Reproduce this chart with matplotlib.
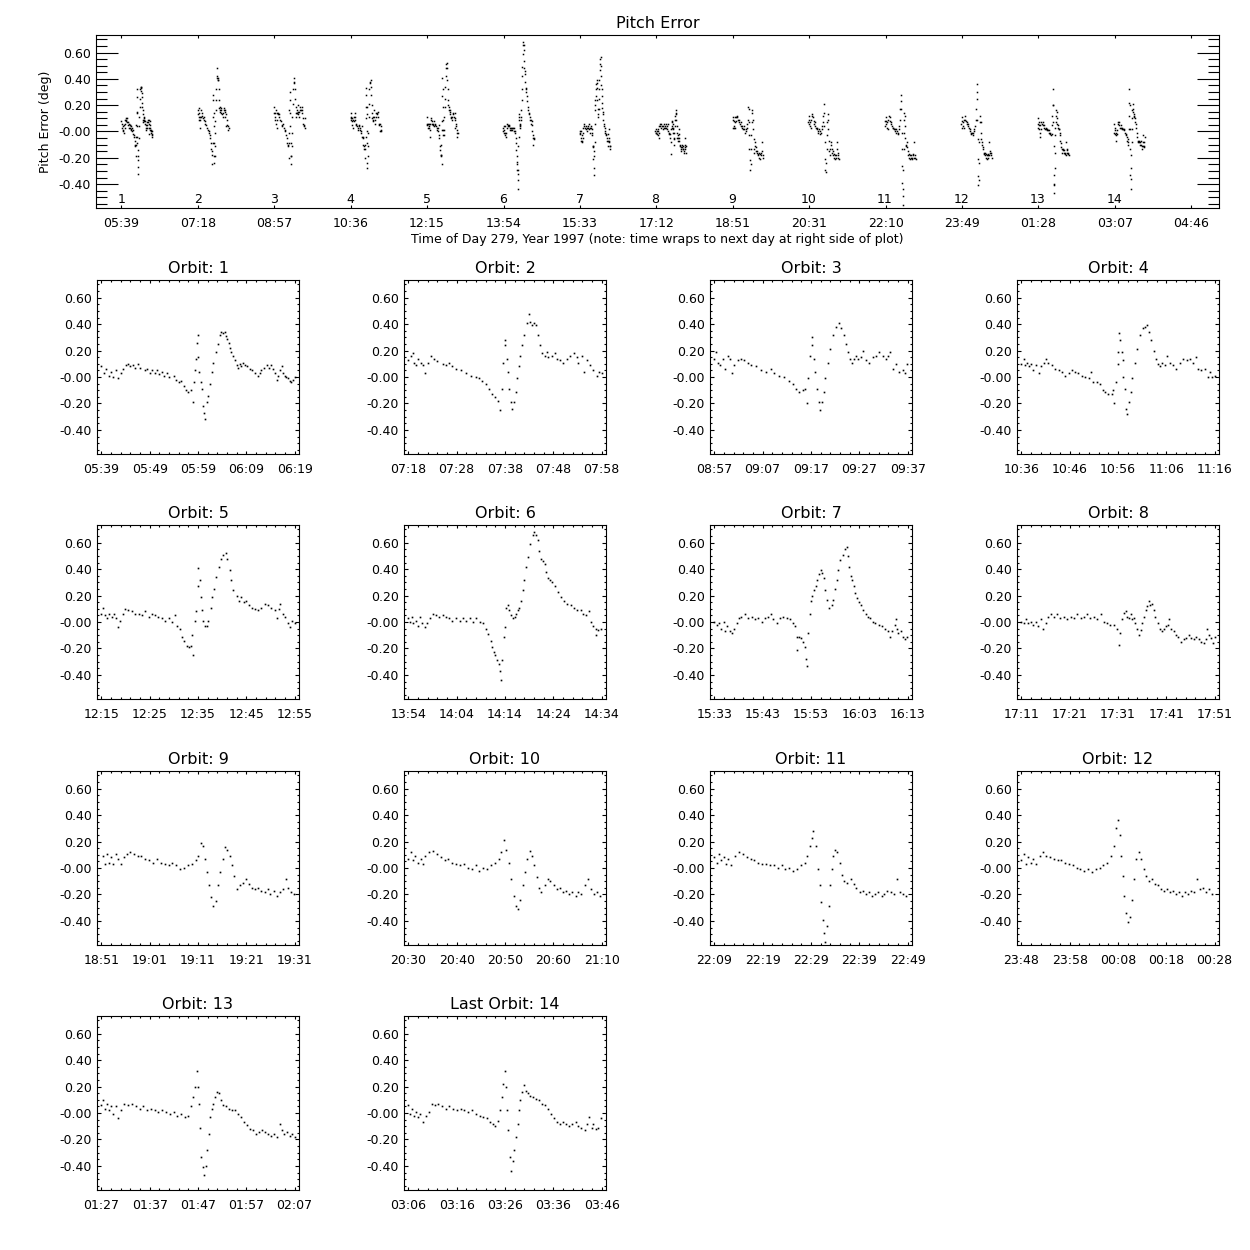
import matplotlib
matplotlib.use('Agg')
import matplotlib.pyplot as plt
from matplotlib.ticker import AutoMinorLocator

plt.rcParams['font.family'] = 'DejaVu Sans'

########################## DATA ###################################################

# orbit start, minutes after 00:00 of day 279 (values past 1440 are next day)
orbit_start = [339.0, 438.0, 537.0, 636.0, 735.0, 834.0, 933.0, 1031.0,
               1131.0, 1229.6, 1329.0, 1428.0, 1527.0, 1626.0]

# (minutes into orbit, pitch error in deg)
orbit1 = [(0, 0.08), (0.5, 0.03), (1, 0.06), (1.5, 0.01), (2, 0.04), (2.5, 0.00), (3, 0.05), (3.5, -0.01),
          (4, 0.03), (4.5, 0.06), (5, 0.09), (5.5, 0.10), (6, 0.08), (6.5, 0.09), (7, 0.07), (7.5, 0.10),
          (8, 0.07), (9, 0.05), (9.5, 0.06), (10, 0.03), (10.5, 0.05), (11, 0.03), (11.5, 0.05), (12, 0.02),
          (12.5, 0.04), (13, 0.01), (13.5, 0.03), (14, 0.00), (15, 0.01), (15.5, -0.02), (16, -0.04),
          (16.5, -0.03), (17, -0.07), (17.5, -0.10), (18, -0.11), (18.5, -0.10), (19.0, -0.19), (19.2, -0.04),
          (19.4, 0.05), (19.6, 0.14), (19.8, 0.26), (19.9, 0.32), (20.1, 0.15), (20.3, 0.04), (20.6, -0.04),
          (20.8, -0.09), (21.0, -0.22), (21.2, -0.27), (21.5, -0.32), (21.8, -0.19), (22.1, -0.14),
          (22.5, -0.05), (22.8, 0.04), (23.2, 0.11), (23.7, 0.19), (24.1, 0.25), (24.5, 0.32), (24.8, 0.34),
          (25.2, 0.33), (25.5, 0.34), (25.8, 0.31), (26.1, 0.29), (26.4, 0.26), (26.7, 0.22), (26.9, 0.19),
          (27.3, 0.16), (27.6, 0.13), (28.0, 0.09), (28.3, 0.07), (28.7, 0.10), (29.0, 0.08), (29.4, 0.11),
          (29.7, 0.09), (30.2, 0.08), (30.7, 0.06), (31.2, 0.05), (31.8, 0.03), (32.4, 0.01), (32.8, 0.03),
          (33.1, 0.05), (33.6, 0.07), (34.2, 0.09), (34.7, 0.07), (35.2, 0.09), (35.6, 0.06), (35.9, 0.03),
          (36.3, -0.02), (36.6, 0.01), (37.0, 0.05), (37.3, 0.08), (37.6, 0.03), (37.9, 0.01), (38.3, 0.00),
          (38.6, -0.01), (39.0, -0.03), (39.3, -0.04), (39.6, -0.02), (40.0, 0.00)]

orbit2 = [(0, 0.13), (0.5, 0.16), (0.9, 0.18), (1.2, 0.11), (1.6, 0.09), (2.1, 0.14), (2.6, 0.11), (3.1, 0.09),
          (3.4, 0.03), (4.0, 0.11), (4.7, 0.16), (5.4, 0.14), (6.0, 0.12), (7.1, 0.10), (7.8, 0.09), (8.4, 0.11),
          (9.1, 0.08), (9.8, 0.06), (10.8, 0.05), (11.9, 0.03), (12.9, 0.01), (13.9, 0.00), (14.6, -0.01),
          (15.3, -0.03), (16.0, -0.05), (16.7, -0.09), (17.4, -0.13), (18.0, -0.15), (18.6, -0.18),
          (18.9, -0.25), (19.3, -0.09), (19.6, 0.11), (19.9, 0.28), (20.1, 0.24), (20.4, 0.14), (20.6, 0.04),
          (20.9, -0.09), (21.3, -0.19), (21.5, -0.24), (21.8, -0.19), (22.2, -0.11), (22.5, -0.01),
          (22.8, 0.08), (23.2, 0.16), (23.5, 0.24), (24.0, 0.32), (24.6, 0.41), (24.9, 0.48), (25.1, 0.42),
          (25.6, 0.39), (26.1, 0.41), (26.5, 0.39), (26.9, 0.32), (27.3, 0.24), (27.6, 0.18), (28.2, 0.16),
          (28.7, 0.19), (29.0, 0.15), (29.7, 0.16), (30.4, 0.18), (30.7, 0.14), (31.4, 0.13), (32.1, 0.11),
          (32.8, 0.14), (33.5, 0.16), (34.2, 0.18), (34.9, 0.15), (35.2, 0.11), (35.9, 0.16), (36.4, 0.04),
          (36.9, 0.13), (37.6, 0.09), (38.3, 0.05), (39.0, 0.01), (39.5, 0.04), (40.0, 0.03)]

orbit3 = [(0, 0.14), (0.3, 0.19), (0.7, 0.11), (1.2, 0.09), (1.7, 0.14), (2.2, 0.06), (2.8, 0.16), (3.2, 0.14),
          (3.6, 0.03), (4.1, 0.09), (4.8, 0.13), (5.5, 0.14), (6.2, 0.13), (6.9, 0.11), (7.6, 0.09), (8.6, 0.08),
          (9.7, 0.05), (10.7, 0.04), (11.7, 0.06), (12.4, 0.03), (13.4, 0.01), (14.5, 0.00), (15.5, -0.03),
          (16.2, -0.05), (16.9, -0.09), (17.6, -0.11), (18.3, -0.10), (18.8, -0.09), (19.1, -0.20),
          (19.4, -0.01), (19.8, 0.16), (20.2, 0.30), (20.3, 0.24), (20.6, 0.14), (20.8, 0.04), (21.2, -0.09),
          (21.6, -0.19), (21.9, -0.25), (22.2, -0.19), (22.6, -0.11), (23.0, -0.01), (23.5, 0.11),
          (24.0, 0.21), (24.5, 0.32), (25.1, 0.38), (25.7, 0.41), (26.2, 0.37), (26.8, 0.32), (27.3, 0.25),
          (27.7, 0.19), (28.1, 0.14), (28.5, 0.11), (29.0, 0.14), (29.3, 0.16), (29.8, 0.14), (30.3, 0.15),
          (30.7, 0.20), (31.4, 0.13), (32.1, 0.11), (32.8, 0.15), (33.4, 0.16), (34.1, 0.19), (34.8, 0.16),
          (35.5, 0.14), (36.0, 0.16), (36.4, 0.19), (36.9, 0.06), (37.6, 0.10), (38.3, 0.04), (39.0, 0.05),
          (39.5, 0.03), (39.9, 0.10)]

orbit4 = [(0, 0.10), (0.5, 0.14), (0.8, 0.09), (1.2, 0.11), (1.6, 0.08), (2.1, 0.10), (2.5, 0.05), (3.1, 0.09),
          (3.6, 0.03), (4.1, 0.08), (4.6, 0.11), (5.2, 0.14), (5.6, 0.11), (6.3, 0.09), (7.0, 0.06), (7.7, 0.05),
          (8.4, 0.04), (9.1, 0.01), (9.8, 0.03), (10.4, 0.05), (11.1, 0.04), (11.8, 0.03), (12.5, 0.01),
          (13.2, 0.00), (13.9, -0.01), (14.4, 0.04), (14.9, -0.04), (15.6, -0.04), (16.3, -0.05),
          (16.8, -0.10), (17.3, -0.11), (18.0, -0.13), (18.7, -0.13), (19.0, -0.10), (19.2, -0.20),
          (19.6, -0.04), (19.9, 0.10), (20.1, 0.19), (20.3, 0.33), (20.5, 0.28), (20.8, 0.19), (21.0, 0.13),
          (21.1, 0.00), (21.4, -0.09), (21.6, -0.24), (21.9, -0.28), (22.3, -0.19), (22.6, -0.11),
          (23.0, -0.01), (23.5, 0.11), (24.0, 0.21), (24.5, 0.32), (25.1, 0.37), (25.6, 0.38), (26.0, 0.39),
          (26.5, 0.34), (26.9, 0.28), (27.4, 0.20), (27.8, 0.14), (28.3, 0.10), (28.7, 0.08), (29.1, 0.11),
          (29.7, 0.09), (30.2, 0.16), (30.7, 0.11), (31.4, 0.09), (32.1, 0.06), (32.8, 0.11), (33.5, 0.14),
          (34.2, 0.13), (34.8, 0.14), (35.5, 0.11), (36.1, 0.15), (36.6, 0.06), (37.2, 0.05), (37.9, 0.06),
          (38.6, 0.00), (39.1, 0.04), (39.5, 0.00), (40.0, 0.01)]

orbit5 = [(0, 0.06), (0.3, 0.11), (0.7, 0.05), (1.2, 0.03), (1.6, 0.06), (2.2, 0.04), (2.7, 0.06), (3.1, 0.03),
          (3.4, -0.04), (3.9, 0.01), (4.5, 0.06), (4.9, 0.10), (5.6, 0.09), (6.3, 0.08), (7.0, 0.06),
          (7.7, 0.06), (8.4, 0.05), (9.1, 0.08), (9.8, 0.04), (10.4, 0.06), (11.1, 0.05), (11.8, 0.04),
          (12.5, 0.03), (13.2, 0.01), (13.9, 0.03), (14.6, 0.00), (15.3, 0.05), (15.6, -0.03), (16.2, -0.05),
          (16.6, -0.11), (17.1, -0.14), (17.7, -0.18), (18.1, -0.19), (18.6, -0.18), (18.8, -0.10),
          (19.0, -0.25), (19.4, 0.01), (19.6, 0.08), (19.9, 0.27), (20.1, 0.41), (20.4, 0.32), (20.6, 0.19),
          (20.9, 0.09), (21.1, 0.01), (21.4, -0.03), (21.8, -0.03), (22.1, 0.01), (22.6, 0.11), (23.0, 0.19),
          (23.4, 0.25), (23.8, 0.34), (24.3, 0.42), (24.7, 0.48), (25.2, 0.51), (25.7, 0.52), (26.1, 0.48),
          (26.6, 0.39), (26.9, 0.32), (27.3, 0.24), (28.0, 0.20), (28.5, 0.16), (29.0, 0.19), (29.5, 0.15),
          (30.0, 0.16), (30.6, 0.13), (31.1, 0.11), (31.8, 0.10), (32.4, 0.09), (33.1, 0.11), (33.8, 0.14),
          (34.5, 0.13), (35.2, 0.11), (35.9, 0.09), (36.4, 0.03), (36.8, 0.10), (37.0, 0.14), (37.6, 0.06),
          (38.1, 0.04), (38.6, -0.01), (39.1, -0.04), (39.5, 0.01), (40.0, -0.01)]

orbit6 = [(0, 0.03), (0.3, 0.00), (0.7, 0.04), (1.0, -0.01), (1.5, 0.01), (1.9, -0.03), (2.4, 0.04),
          (2.9, -0.01), (3.4, -0.04), (3.9, -0.01), (4.5, 0.03), (5.0, 0.06), (5.7, 0.05), (6.4, 0.04),
          (7.1, 0.05), (7.8, 0.04), (8.4, 0.03), (9.1, 0.01), (9.9, 0.03), (10.6, 0.01), (11.3, 0.03),
          (12.0, 0.01), (12.7, 0.03), (13.4, 0.00), (14.1, 0.03), (14.8, 0.00), (15.4, -0.01), (16.0, -0.05),
          (16.5, -0.09), (17.0, -0.14), (17.4, -0.19), (17.7, -0.23), (18.0, -0.25), (18.4, -0.29),
          (18.7, -0.32), (19.0, -0.37), (19.1, -0.44), (19.3, -0.29), (19.7, -0.11), (20.0, -0.04),
          (20.2, 0.11), (20.6, 0.13), (20.9, 0.09), (21.3, 0.05), (21.6, 0.03), (22.0, 0.04), (22.3, 0.06),
          (22.6, 0.09), (23.0, 0.11), (23.3, 0.16), (23.7, 0.24), (24.0, 0.32), (24.4, 0.42), (24.8, 0.49),
          (25.2, 0.59), (25.7, 0.66), (26.1, 0.68), (26.4, 0.66), (26.8, 0.62), (27.1, 0.54), (27.4, 0.48),
          (27.8, 0.46), (28.2, 0.44), (28.5, 0.38), (29.0, 0.33), (29.4, 0.32), (29.8, 0.30), (30.3, 0.27),
          (30.9, 0.23), (31.6, 0.19), (32.2, 0.16), (32.9, 0.14), (33.6, 0.13), (34.3, 0.11), (35.0, 0.09),
          (35.7, 0.09), (36.2, 0.06), (36.7, 0.05), (37.3, 0.08), (37.7, 0.00), (38.2, -0.03), (38.8, -0.05),
          (38.9, -0.10), (39.3, -0.06), (39.8, -0.05)]

orbit7 = [(0, 0.00), (0.5, -0.02), (0.9, -0.01), (1.4, -0.05), (1.9, 0.00), (2.3, -0.07), (2.7, -0.03),
          (3.2, -0.07), (3.6, -0.08), (4.1, -0.05), (4.6, -0.01), (5.0, 0.03), (5.6, 0.04), (6.3, 0.06),
          (7.0, 0.03), (7.7, 0.04), (8.4, 0.02), (9.1, 0.03), (9.8, 0.00), (10.4, 0.03), (11.1, 0.04),
          (11.7, 0.06), (12.2, 0.02), (12.9, -0.01), (13.6, 0.03), (14.3, 0.04), (15.0, 0.03), (15.7, 0.02),
          (16.2, -0.01), (16.6, -0.03), (17.0, -0.11), (17.2, -0.21), (17.5, -0.11), (17.9, -0.12),
          (18.4, -0.15), (18.7, -0.19), (18.9, -0.28), (19.1, -0.33), (19.4, -0.08), (19.7, 0.06),
          (19.9, 0.16), (20.3, 0.20), (20.6, 0.24), (21.0, 0.27), (21.3, 0.32), (21.6, 0.36), (22.0, 0.39),
          (22.3, 0.37), (22.7, 0.33), (23.0, 0.24), (23.4, 0.17), (23.8, 0.11), (24.3, 0.13), (24.6, 0.17),
          (24.9, 0.25), (25.3, 0.32), (25.6, 0.39), (26.1, 0.47), (26.6, 0.51), (27.0, 0.55), (27.4, 0.57),
          (27.6, 0.50), (27.9, 0.42), (28.2, 0.35), (28.5, 0.32), (28.9, 0.27), (29.2, 0.22), (29.6, 0.18),
          (30.0, 0.15), (30.4, 0.13), (30.8, 0.09), (31.3, 0.06), (31.8, 0.04), (32.3, 0.03), (32.9, 0.00),
          (33.3, -0.01), (34.0, -0.02), (34.7, -0.03), (35.4, -0.05), (35.9, -0.07), (36.4, -0.11),
          (36.8, -0.07), (37.3, -0.02), (37.5, 0.02), (37.8, -0.05), (38.1, -0.08), (38.6, -0.07),
          (39.0, -0.11), (39.5, -0.13), (39.9, -0.11)]

orbit8 = [(0, 0.00), (0.6, -0.01), (0.9, 0.02), (1.4, -0.01), (1.9, 0.00), (2.4, -0.02), (3.0, 0.00),
          (3.4, -0.03), (4.0, 0.02), (4.5, -0.05), (5.0, -0.01), (5.5, 0.04), (6.1, 0.06), (6.7, 0.04),
          (7.4, 0.06), (8.1, 0.03), (8.8, 0.04), (9.5, 0.02), (10.2, 0.04), (10.9, 0.03), (11.6, 0.06),
          (12.3, 0.03), (12.9, 0.04), (13.6, 0.06), (14.3, 0.03), (15.0, 0.04), (15.7, 0.02), (16.4, 0.06),
          (17.1, 0.00), (17.8, -0.01), (18.4, -0.02), (19.1, -0.02), (19.8, -0.05), (20.2, -0.17),
          (20.5, -0.08), (20.9, 0.02), (21.2, 0.07), (21.6, 0.08), (21.9, 0.04), (22.2, 0.03), (22.6, 0.06),
          (22.9, 0.02), (23.3, 0.03), (23.6, -0.01), (24.0, -0.05), (24.3, -0.10), (24.7, -0.06),
          (25.0, -0.01), (25.4, 0.04), (25.7, 0.09), (26.0, 0.12), (26.4, 0.16), (26.7, 0.13), (27.1, 0.14),
          (27.4, 0.09), (27.7, 0.04), (28.2, -0.01), (28.6, -0.05), (29.1, -0.07), (29.6, -0.05),
          (30.0, -0.03), (30.3, -0.02), (30.6, 0.02), (30.9, -0.05), (31.5, -0.07), (32.0, -0.10),
          (32.5, -0.11), (33.1, -0.15), (33.6, -0.13), (34.1, -0.12), (34.6, -0.10), (35.2, -0.12),
          (35.7, -0.13), (36.2, -0.11), (36.7, -0.13), (37.2, -0.15), (37.7, -0.16), (38.2, -0.13),
          (38.5, -0.05), (38.9, -0.10), (39.3, -0.12), (39.7, -0.16), (40.0, -0.11)]

orbit9 = [(0.3, 0.09), (0.8, 0.03), (1.1, 0.11), (1.6, 0.04), (2.1, 0.08), (2.4, 0.03), (3.0, 0.11),
          (3.5, 0.07), (4.0, 0.03), (4.6, 0.08), (5.3, 0.11), (5.9, 0.12), (6.7, 0.11), (7.5, 0.09),
          (8.3, 0.09), (9.1, 0.07), (9.9, 0.06), (10.7, 0.04), (11.5, 0.07), (12.3, 0.04), (13.1, 0.03),
          (13.9, 0.02), (14.7, 0.04), (15.5, 0.02), (16.3, -0.01), (17.1, 0.00), (17.9, 0.02), (18.7, 0.03),
          (19.5, 0.06), (20.0, 0.09), (20.6, 0.19), (21.1, 0.17), (21.4, 0.07), (21.9, -0.03), (22.2, -0.13),
          (22.7, -0.22), (23.2, -0.29), (23.7, -0.25), (24.2, -0.13), (24.6, -0.03), (25.1, 0.07),
          (25.6, 0.16), (26.1, 0.14), (26.6, 0.09), (27.0, 0.02), (27.5, -0.06), (28.0, -0.16),
          (28.6, -0.13), (29.3, -0.11), (29.9, -0.08), (30.6, -0.12), (31.2, -0.15), (31.8, -0.16),
          (32.5, -0.15), (33.1, -0.17), (33.8, -0.18), (34.4, -0.16), (35.0, -0.20), (35.7, -0.17),
          (36.3, -0.21), (37.0, -0.18), (37.6, -0.16), (38.2, -0.08), (38.7, -0.15), (39.2, -0.18),
          (39.8, -0.20)]

orbit10 = [(0, 0.07), (0.5, 0.12), (1.0, 0.06), (1.4, 0.09), (1.9, 0.04), (2.6, 0.07), (3.0, 0.03),
           (3.5, 0.09), (4.3, 0.12), (5.1, 0.13), (5.9, 0.11), (6.7, 0.08), (7.5, 0.06), (8.3, 0.07),
           (9.1, 0.04), (9.9, 0.03), (10.7, 0.02), (11.5, 0.03), (12.3, 0.00), (13.1, -0.01), (13.9, 0.02),
           (14.7, -0.02), (15.5, 0.00), (16.3, -0.01), (17.1, 0.02), (17.9, 0.04), (18.7, 0.07), (19.2, 0.12),
           (19.8, 0.21), (20.3, 0.14), (20.8, 0.04), (21.3, -0.08), (21.8, -0.21), (22.2, -0.29),
           (22.7, -0.31), (23.2, -0.24), (23.7, -0.13), (24.2, -0.03), (24.6, 0.07), (25.1, 0.13),
           (25.6, 0.09), (26.1, 0.02), (26.6, -0.07), (27.0, -0.15), (27.5, -0.18), (28.2, -0.13),
           (28.8, -0.08), (29.4, -0.10), (30.1, -0.13), (30.7, -0.16), (31.4, -0.15), (32.0, -0.18),
           (32.6, -0.17), (33.3, -0.20), (33.9, -0.18), (34.6, -0.21), (35.2, -0.18), (35.8, -0.20),
           (36.5, -0.13), (37.1, -0.08), (37.8, -0.16), (38.4, -0.20), (39.0, -0.18), (39.7, -0.21)]

orbit11 = [(0, 0.08), (0.5, 0.04), (1.0, 0.11), (1.4, 0.06), (1.9, 0.08), (2.4, 0.03), (2.9, 0.07),
           (3.5, 0.02), (4.3, 0.09), (5.1, 0.12), (5.9, 0.11), (6.7, 0.08), (7.5, 0.07), (8.3, 0.06),
           (9.1, 0.04), (9.9, 0.03), (10.7, 0.03), (11.5, 0.02), (12.3, 0.02), (13.1, 0.00), (13.9, 0.02),
           (14.7, -0.01), (15.5, 0.00), (16.3, -0.02), (17.1, -0.01), (17.9, 0.02), (18.7, 0.04),
           (19.2, 0.09), (19.7, 0.17), (20.2, 0.23), (20.5, 0.28), (21.0, 0.17), (21.4, -0.01),
           (21.8, -0.13), (22.1, -0.26), (22.4, -0.39), (22.7, -0.49), (23.0, -0.56), (23.4, -0.44),
           (23.7, -0.29), (24.0, -0.13), (24.3, -0.01), (24.6, 0.09), (25.0, 0.14), (25.4, 0.12),
           (25.9, 0.04), (26.4, -0.05), (26.9, -0.10), (27.5, -0.11), (28.2, -0.08), (28.8, -0.12),
           (29.4, -0.15), (30.1, -0.18), (30.7, -0.17), (31.4, -0.20), (32.0, -0.18), (32.6, -0.21),
           (33.3, -0.20), (33.9, -0.18), (34.6, -0.21), (35.2, -0.20), (35.8, -0.17), (36.5, -0.18),
           (37.1, -0.20), (37.8, -0.08), (38.4, -0.18), (39.0, -0.20), (39.7, -0.21)]

orbit12 = [(0, 0.06), (0.5, 0.11), (0.9, 0.03), (1.4, 0.08), (1.9, 0.04), (2.5, 0.07), (3.1, 0.03),
           (3.8, 0.09), (4.4, 0.12), (5.2, 0.09), (6.0, 0.08), (6.7, 0.07), (7.5, 0.06), (8.3, 0.06),
           (9.1, 0.04), (9.9, 0.03), (10.7, 0.02), (11.5, 0.00), (12.2, -0.01), (13.0, -0.02), (13.8, -0.01),
           (14.6, -0.03), (15.4, -0.01), (16.2, 0.00), (16.9, 0.02), (17.7, 0.04), (18.5, 0.09), (19.1, 0.17),
           (19.6, 0.30), (19.9, 0.36), (20.4, 0.25), (20.7, 0.09), (21.0, -0.06), (21.3, -0.21),
           (21.6, -0.34), (22.0, -0.41), (22.4, -0.37), (22.9, -0.24), (23.4, -0.08), (23.8, 0.07),
           (24.3, 0.12), (24.8, 0.07), (25.3, -0.01), (25.7, -0.06), (26.4, -0.10), (27.0, -0.08),
           (27.6, -0.12), (28.2, -0.13), (28.9, -0.16), (29.5, -0.17), (30.1, -0.16), (30.7, -0.18),
           (31.4, -0.17), (32.0, -0.20), (32.6, -0.18), (33.3, -0.21), (33.9, -0.18), (34.5, -0.20),
           (35.1, -0.17), (35.8, -0.18), (36.4, -0.08), (37.0, -0.16), (37.6, -0.15), (38.3, -0.18),
           (38.9, -0.16), (39.5, -0.20)]

orbit13 = [(0, 0.06), (0.4, 0.10), (0.8, 0.03), (1.2, 0.07), (1.6, 0.02), (2.0, 0.05), (2.5, -0.01),
           (3.0, 0.05), (3.5, -0.04), (4.1, 0.02), (4.7, 0.07), (5.5, 0.06), (6.3, 0.07), (7.1, 0.05),
           (7.9, 0.03), (8.7, 0.05), (9.4, 0.02), (10.2, 0.03), (11.0, 0.02), (11.8, 0.01), (12.6, 0.02),
           (13.4, 0.01), (14.2, -0.01), (15.0, 0.01), (15.7, -0.02), (16.5, -0.01), (17.3, -0.03),
           (17.9, -0.02), (18.5, 0.05), (18.9, 0.12), (19.3, 0.20), (19.7, 0.32), (20.1, 0.20), (20.3, 0.07),
           (20.5, -0.11), (20.7, -0.33), (21.0, -0.41), (21.3, -0.47), (21.6, -0.40), (21.9, -0.28),
           (22.2, -0.16), (22.5, -0.03), (22.8, 0.03), (23.2, 0.07), (23.6, 0.12), (24.0, 0.16), (24.4, 0.15),
           (24.8, 0.10), (25.2, 0.06), (25.8, 0.05), (26.5, 0.03), (27.1, 0.02), (27.7, 0.02), (28.3, -0.01),
           (29.0, -0.03), (29.5, -0.07), (30.1, -0.09), (30.7, -0.12), (31.3, -0.13), (32.0, -0.16),
           (32.6, -0.14), (33.2, -0.13), (33.9, -0.14), (34.5, -0.16), (35.1, -0.17), (35.7, -0.16),
           (36.4, -0.18), (36.9, -0.08), (37.3, -0.13), (37.8, -0.16), (38.4, -0.14), (39.0, -0.17),
           (39.5, -0.16), (40.0, -0.18)]

orbit14 = [(0, 0.06), (0.4, -0.01), (0.8, 0.03), (1.2, -0.02), (1.6, 0.01), (2.0, -0.03), (2.5, -0.01),
           (3.1, -0.07), (3.6, -0.02), (4.3, 0.01), (4.9, 0.07), (5.5, 0.06), (6.2, 0.07), (6.9, 0.05),
           (7.7, 0.03), (8.4, 0.05), (9.2, 0.03), (10.0, 0.02), (10.8, 0.03), (11.6, 0.02), (12.4, 0.01),
           (13.2, 0.02), (14.0, -0.01), (14.8, -0.02), (15.5, -0.03), (16.3, -0.04), (16.9, -0.07),
           (17.5, -0.08), (18.0, -0.10), (18.5, -0.06), (18.9, 0.02), (19.3, 0.12), (19.6, 0.22), (19.9, 0.32),
           (20.3, 0.20), (20.5, 0.02), (20.7, -0.13), (21.0, -0.33), (21.3, -0.44), (21.6, -0.36),
           (21.9, -0.28), (22.2, -0.18), (22.6, -0.08), (22.9, 0.02), (23.2, 0.10), (23.6, 0.16), (24.0, 0.21),
           (24.4, 0.17), (24.8, 0.15), (25.2, 0.13), (25.8, 0.12), (26.4, 0.11), (27.0, 0.10), (27.6, 0.07),
           (28.2, 0.06), (28.9, 0.03), (29.5, -0.01), (30.1, -0.04), (30.8, -0.07), (31.4, -0.08),
           (32.0, -0.07), (32.7, -0.08), (33.3, -0.10), (33.9, -0.08), (34.6, -0.07), (35.2, -0.10),
           (35.8, -0.11), (36.5, -0.13), (36.9, -0.08), (37.4, -0.03), (37.9, -0.11), (38.3, -0.08),
           (38.8, -0.12), (39.3, -0.11), (39.8, -0.04)]

orbits = [orbit1, orbit2, orbit3, orbit4, orbit5, orbit6, orbit7,
          orbit8, orbit9, orbit10, orbit11, orbit12, orbit13, orbit14]

top_tick_labels = ['05:39', '07:18', '08:57', '10:36', '12:15', '13:54', '15:33', '17:12',
                   '18:51', '20:31', '22:10', '23:49', '01:28', '03:07', '04:46']
ytick_values = [-0.4, -0.2, 0.0, 0.2, 0.4, 0.6]
ytick_labels = ['-0.40', '-0.20', '-0.00', '0.20', '0.40', '0.60']

YLIM = (-0.582, 0.734)
FS = 9
TITLE_FS = 11.5


def hhmm(t):
    h = int(t // 60) % 24
    m = int(round(t % 60))
    return '%02d:%02d' % (h, m)


def px_axes(fig, left, top, w, h):
    return fig.add_axes([left / 1250.0, 1 - (top + h) / 1250.0, w / 1250.0, h / 1250.0])


def style_axes(ax, ylen, xlen):
    for s in ax.spines.values():
        s.set_linewidth(0.8)
    ax.set_ylim(*YLIM)
    ax.set_yticks(ytick_values)
    ax.set_yticklabels(ytick_labels)
    ax.yaxis.set_minor_locator(AutoMinorLocator(4))
    ax.tick_params(axis='y', which='major', direction='in', left=True, right=True,
                   length=ylen, width=0.8, labelsize=FS, pad=3.5)
    ax.tick_params(axis='y', which='minor', direction='in', left=True, right=True,
                   length=ylen / 2.0, width=0.8)
    ax.tick_params(axis='x', which='major', direction='in', top=True, bottom=True,
                   length=xlen, width=0.8, labelsize=FS, pad=6.5)
    ax.tick_params(axis='x', which='minor', direction='in', top=True, bottom=True,
                   length=xlen / 2.0, width=0.8)


fig = plt.figure(figsize=(12.5, 12.5), dpi=100)

########################## TOP PANEL ###################################################

ax = px_axes(fig, 96, 35, 1123, 173)
for i in range(len(orbits)):
    t = [orbit_start[i] + p[0] for p in orbits[i]]
    v = [p[1] for p in orbits[i]]
    ax.plot(t, v, 's', ms=1.1, mew=0, color='black')
    ax.text(orbit_start[i], -0.565, str(i + 1), ha='center', va='bottom', fontsize=FS)

first_tick = orbit_start[0]
last_tick = orbit_start[0] + 1387
step = (last_tick - first_tick) / 14.0
ax.set_xticks([first_tick + k * step for k in range(15)])
ax.set_xticklabels(top_tick_labels)
ax.set_xlim(first_tick - 33, last_tick + 36)
style_axes(ax, 16, 2.5)
ax.set_title('Pitch Error', fontsize=TITLE_FS, pad=5)
ax.set_xlabel('Time of Day 279, Year 1997 (note: time wraps to next day at right side of plot)',
              fontsize=FS, labelpad=2)
ax.set_ylabel('Pitch Error (deg)', fontsize=FS, labelpad=5)

########################## ORBIT PANELS ###################################################

col_left = [97, 404, 710, 1017]
row_top = [280, 525, 771, 1016]

for i in range(len(orbits)):
    r, c = divmod(i, 4)
    ax = px_axes(fig, col_left[c], row_top[r], 202, 174)
    t0 = orbit_start[i]
    t = [t0 + p[0] for p in orbits[i]]
    v = [p[1] for p in orbits[i]]
    ax.plot(t, v, 's', ms=1.2, mew=0, color='black')
    ticks = [t0 + 10 * k for k in range(5)]
    ax.set_xticks(ticks)
    ax.set_xticklabels([hhmm(x) for x in ticks])
    ax.set_xlim(t0 - 0.9, t0 + 40.9)
    ax.xaxis.set_minor_locator(AutoMinorLocator(5))
    style_axes(ax, 2.9, 2.5)
    title = 'Orbit: %d' % (i + 1)
    if i == len(orbits) - 1:
        title = 'Last ' + title
    ax.set_title(title, fontsize=TITLE_FS, pad=5)

fig.savefig('out.png', dpi=100, facecolor='white')
